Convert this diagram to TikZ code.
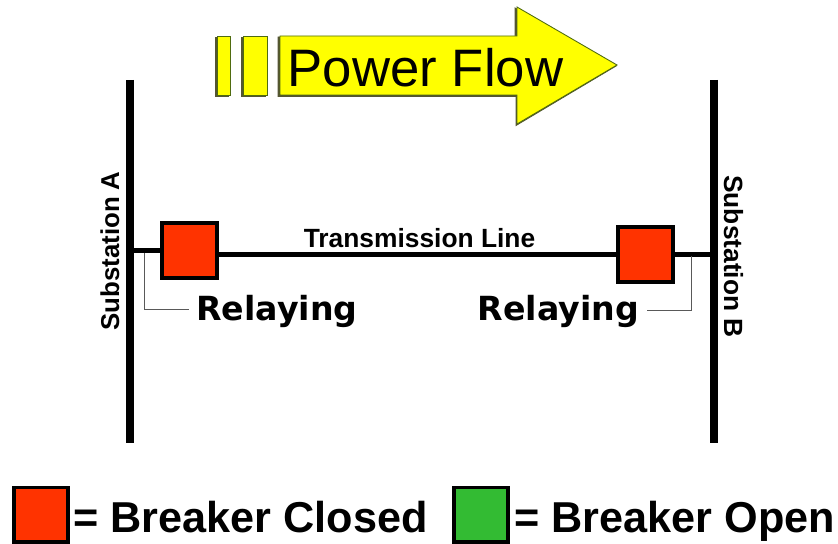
\documentclass[tikz,border=0pt]{standalone}
\usepackage{fontspec}
\setmainfont{Liberation Sans}
\newfontfamily\relayfont{DejaVu Sans}
\definecolor{brkred}{HTML}{FF3300}
\definecolor{brkgreen}{HTML}{33BB33}
\definecolor{flowyellow}{HTML}{FFFF00}
\definecolor{flowedge}{HTML}{4F6B10}
\definecolor{flowdark}{HTML}{555533}
\tikzset{
  bus/.style={line width=4.5pt},
  feeder/.style={line width=3.4pt},
  leader/.style={line width=0.5pt,draw=black!65},
  breaker/.style={draw=black,line width=2.3pt,minimum size=1.1cm,inner sep=0pt},
  legendbox/.style={draw=black,line width=2pt,minimum size=1.09cm,inner sep=0pt},
  flowbox/.style={fill=flowyellow,draw=flowedge,line width=0.5pt},
  flowshadow/.style={fill=flowdark,draw=flowdark,line width=0.5pt},
  relaytext/.style={font=\relayfont\bfseries\fontsize{18.9}{21}\selectfont,inner sep=0pt,anchor=base},
  subtext/.style={font=\bfseries\fontsize{14.7}{16}\selectfont,inner sep=0pt,anchor=base},
  longtext/.style={font=\bfseries\fontsize{15}{17}\selectfont,inner sep=0pt,anchor=base},
  legendtext/.style={font=\bfseries\fontsize{24.6}{26}\selectfont,inner sep=0pt,anchor=base west}
}
\begin{document}
\begin{tikzpicture}[x=0.02cm,y=-0.02cm]
        \useasboundingbox (0,0) rectangle (838,544);
        % power flow arrow
        \draw[flowshadow] (215,37) rectangle (228,96.5);
        \draw[flowshadow] (241,37) rectangle (265,96.5);
        \draw[flowshadow] (278,37) -- (515,37) -- (515,8) -- (616,66) -- (516,125.5) -- (516,96.5) -- (278,96.5) -- cycle;
        \draw[flowbox] (217,36) rectangle (230,95);
        \draw[flowbox] (243,36) rectangle (267,95);
        \draw[flowbox] (280,36) -- (517,36) -- (517,7) -- (617,65) -- (517,124) -- (517,95) -- (280,95) -- cycle;
        \draw (425.5,87) node[font=\fontsize{30}{32}\selectfont,inner sep=0pt,anchor=base](flow){Power Flow};
        % busbars
        \coordinate (busAtop) at (130,80);
        \coordinate (busAbot) at (130,443);
        \coordinate (busBtop) at (714,80);
        \coordinate (busBbot) at (714,443);
        \draw[bus] (busAtop) -- (busAbot);
        \draw[bus] (busBtop) -- (busBbot);
        \draw (119,251) node[subtext,rotate=90](subA){Substation A};
        \draw (724,256.5) node[longtext,rotate=-90](subB){Substation B};
        % breakers and line
        \draw (189.5,250.5) node[breaker,fill=brkred](brkA){};
        \draw (645.5,254.5) node[breaker,fill=brkred](brkB){};
        \draw[feeder] (busAtop |- brkA) -- (brkA.west);
        \draw[feeder] (brkA.east |- brkB) -- (brkB.west);
        \draw[feeder] (brkB.east) -- (busBtop |- brkB);
        \draw (419.5,247) node[longtext](line){Transmission Line};
        % relaying
        \draw (277,320.5) node[relaytext](relayA){Relaying};
        \draw (558.5,320.5) node[relaytext](relayB){Relaying};
        \coordinate (tapA) at (144,253);
        \coordinate (endA) at (189,309);
        \coordinate (tapB) at (691,256);
        \coordinate (endB) at (647,310);
        \draw[leader] (tapA) |- (endA);
        \draw[leader] (tapB) |- (endB);
        % legend
        \draw (41,514.5) node[legendbox,fill=brkred](keyClosed){};
        \draw (481,514.5) node[legendbox,fill=brkgreen](keyOpen){};
        \draw (73,532) node[legendtext](txtClosed){= Breaker Closed};
        \draw (514,532) node[legendtext](txtOpen){= Breaker Open};
      \end{tikzpicture}
\end{document}
